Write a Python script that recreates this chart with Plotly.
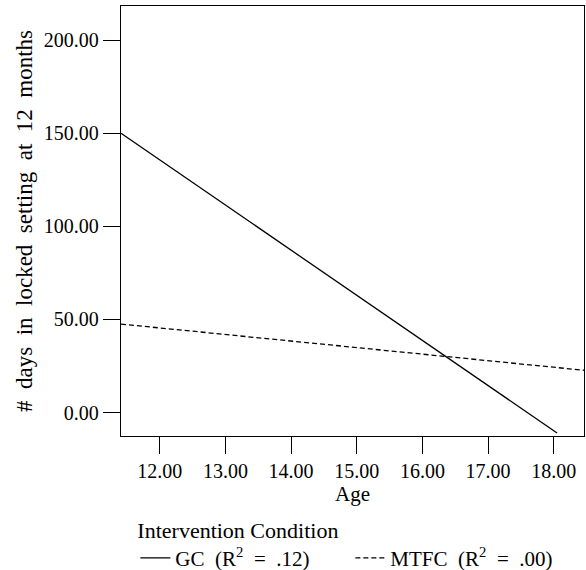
import plotly.graph_objects as go

# Data
gc_age = [11.41, 18.05]
gc_days = [150.0, -11.0]
mtfc_age = [11.41, 18.46]
mtfc_days = [47.5, 22.7]

x_ticks = [12, 13, 14, 15, 16, 17, 18]
y_ticks = [0, 50, 100, 150, 200]

FONT = "Liberation Serif"
W2 = "\u00a0\u00a0"     # slightly wider word spacing, as in the reference

fig = go.Figure()
fig.add_trace(go.Scatter(
    x=gc_age, y=gc_days, mode="lines",
    name=f"GC{W2}(R<sup>2</sup>{W2}={W2}.12)",
    line=dict(color="black", width=1.3),
))
fig.add_trace(go.Scatter(
    x=mtfc_age, y=mtfc_days, mode="lines",
    name=f"MTFC{W2}(R<sup>2</sup>{W2}={W2}.00)",
    line=dict(color="black", width=1.3, dash="5px,3px"),
))

axis_common = dict(
    showgrid=False, zeroline=False,
    showline=True, linecolor="black", linewidth=1.3, mirror=True,
    ticks="outside", ticklen=17, tickwidth=1.3, tickcolor="black",
    tickfont=dict(family=FONT, size=20, color="black"),
)

ytitle = W2.join("# days in locked setting at 12 months".split(" "))

fig.update_layout(
    width=586, height=570,
    margin=dict(l=121, r=2, t=6, b=134, autoexpand=False),
    paper_bgcolor="white", plot_bgcolor="white",
    font=dict(family=FONT, size=20, color="black"),
    xaxis=dict(
        range=[11.41, 18.46], tickvals=x_ticks,
        ticktext=[f"{v:.2f}" for v in x_ticks],
        title=dict(text="Age", font=dict(family=FONT, size=21), standoff=2),
        **axis_common,
    ),
    yaxis=dict(
        range=[-12.6, 218.3], tickvals=y_ticks,
        ticktext=[f"{v:.2f}" for v in y_ticks],
        title=dict(text=ytitle, font=dict(family=FONT, size=23), standoff=4),
        **axis_common,
    ),
    showlegend=True,
    legend=dict(
        orientation="h",
        x=0.031, xanchor="left",
        y=-0.17, yanchor="top",
        title=dict(text="Intervention Condition", side="top",
                   font=dict(family=FONT, size=22)),
        font=dict(family=FONT, size=21, color="black"),
        itemwidth=30, tracegroupgap=0,
        entrywidth=170, entrywidthmode="pixels",
        bgcolor="rgba(0,0,0,0)",
    ),
)

fig.write_html("out.html")
